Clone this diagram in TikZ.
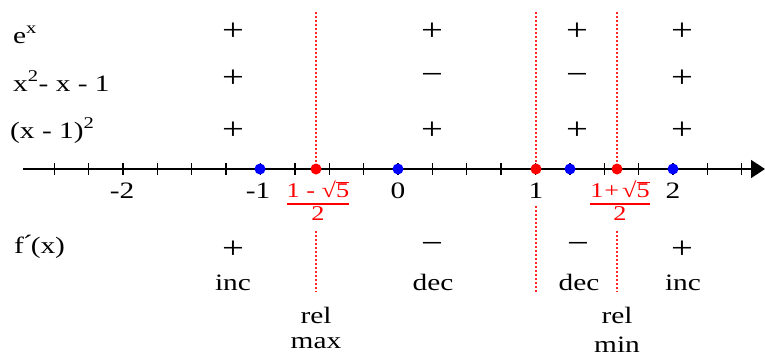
\documentclass[tikz,border=0pt]{standalone}
\usepackage{fontspec}
\setmainfont{Liberation Serif}[FakeStretch=1.25]
\usetikzlibrary{arrows.meta}

\begin{document}
\begin{tikzpicture}[
  x=1pt, y=-1pt,
  font=\fontsize{23.5}{26}\selectfont,
  lbl/.style={anchor=base west, inner sep=0pt},
  sgn/.style={anchor=center, inner sep=0pt, font=\fontsize{31}{33}\selectfont},
  word/.style={anchor=base, inner sep=0pt},
  frac/.style={anchor=north, inner sep=0pt, text=red, font=\fontsize{21}{23}\selectfont},
  crit/.style={red!85, line width=1.5pt, dash pattern=on 2pt off 2pt},
  dot/.style={circle, fill=#1, inner sep=0pt, minimum size=11pt},
  axis/.style={line width=1.6pt, -{Triangle[length=14pt,width=18pt]}},
  tick/.style={line width=1.4pt}
]
\useasboundingbox (0,0) rectangle (765,356);

% factor rows
\node[lbl] (ex) at (13,43) {e\textsuperscript{x}};
\node[lbl] (quad) at (13,91) {x\textsuperscript{2}- x - 1};
\node[lbl] (sq) at (10,138) {(x - 1)\textsuperscript{2}};
\node[lbl] (fp) at (14,253) {f\kern-1pt\raisebox{2pt}{´}\kern-2pt(x)};

% number line
\coordinate (axl) at (23,169);
\coordinate (axr) at (765,169);
\draw[axis] (axl) -- (axr);
\foreach \v in {-2.5,-2.25,...,2.51}
  \draw[tick] ({398+137.5*\v},163) -- ++(0,12);

\node[dot=blue] (pm1) at (260,169) {};
\node[dot=blue] (p0) at (398,169) {};
\node[dot=blue] (p54) at (570,169) {};
\node[dot=blue] (p2) at (673,169) {};
\node[dot=red] (pmax) at (316,169) {};
\node[dot=red] (p1) at (536,169) {};
\node[dot=red] (pmin) at (617,169) {};

\node[word] (nm2) at (122,198) {-2};
\node[word] (nm1) at (258,198) {-1};
\node[word] (n0) at (398,198) {0};
\node[word] (n1) at (536,198) {1};
\node[word] (n2) at (673,198) {2};
\begingroup\setlength{\arrayrulewidth}{2pt}
\node[frac] (fmax) at (318,181) {\begin{tabular}{@{}c@{}}1 - √$\overline{\mbox{5}}$\\[-2pt]\hline 2\end{tabular}};
\node[frac] (fmin) at (620,181) {\begin{tabular}{@{}c@{}}1\kern1pt+\kern3pt√$\overline{\mbox{5}}$\\[-2pt]\hline 2\end{tabular}};
\endgroup

% critical lines
\coordinate (cmaxT) at (316,12);  \coordinate (cmaxB) at (316,292);
\coordinate (conT) at (536,12);   \coordinate (conB) at (536,292);
\coordinate (cminT) at (617,12);  \coordinate (cminB) at (617,292);
\draw[crit] (cmaxT) -- (pmax.north);
\draw[crit] (fmax.south -| cmaxT) ++(0,3) -- (cmaxB);
\draw[crit] (conT) -- (p1.north);
\draw[crit] (n1.south -| conT) ++(0,8) -- (conB);
\draw[crit] (cminT) -- (pmin.north);
\draw[crit] (fmin.south -| cminT) ++(0,3) -- (cminB);

% signs
\node[sgn] (a1) at (233,32) {+};
\node[sgn] (b1) at (432,32) {+};
\node[sgn] (c1) at (577,32) {+};
\node[sgn] (d1) at (682,32) {+};
\node[sgn] (a2) at (233,79) {+};
\node[sgn] (b2) at (432,79) {−};
\node[sgn] (c2) at (577,79) {−};
\node[sgn] (d2) at (682,79) {+};
\node[sgn] (a3) at (233,131) {+};
\node[sgn] (b3) at (432,131) {+};
\node[sgn] (c3) at (577,131) {+};
\node[sgn] (d3) at (682,131) {+};
\node[sgn] (a4) at (233,250) {+};
\node[sgn] (b4) at (432,248) {−};
\node[sgn] (c4) at (578,248) {−};
\node[sgn] (d4) at (682,250) {+};

\node[word] (inc1) at (233,290) {inc};
\node[word] (dec1) at (433,290) {dec};
\node[word] (dec2) at (579,290) {dec};
\node[word] (inc2) at (683,290) {inc};
\node[word] (rel1) at (316,323) {rel};
\node[word] (max) at (316,348) {max};
\node[word] (rel2) at (617,323) {rel};
\node[word] (min) at (617,352) {min};
\end{tikzpicture}
\end{document}
